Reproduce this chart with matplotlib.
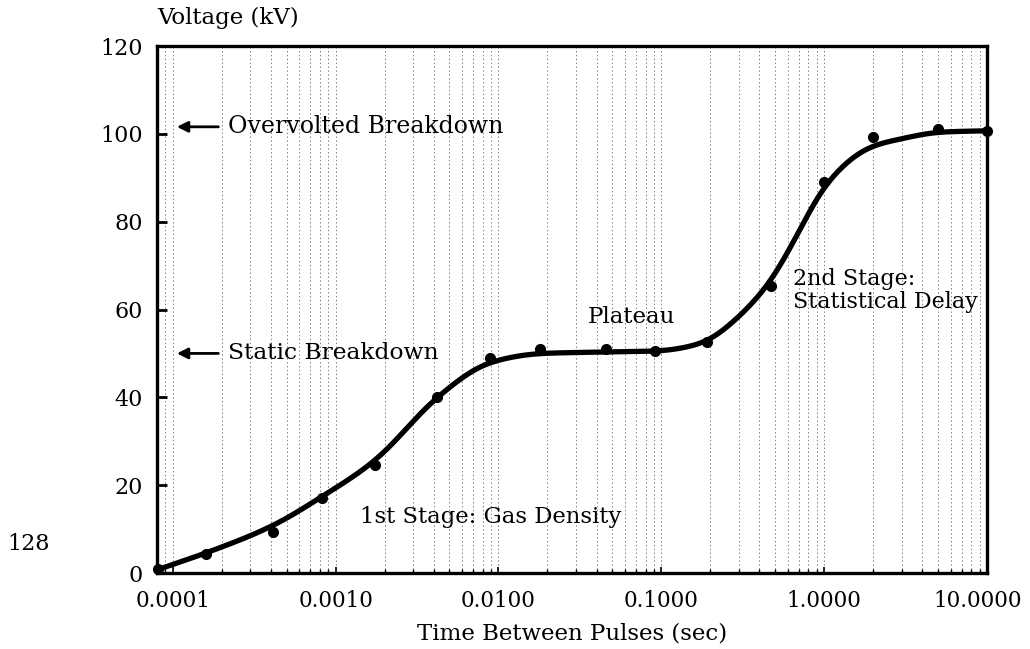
import numpy as np
import matplotlib
matplotlib.use("Agg")
import matplotlib.pyplot as plt
from matplotlib.ticker import FixedLocator, FuncFormatter, LogLocator
from matplotlib.transforms import ScaledTranslation

plt.rcParams['font.family'] = ['DejaVu Serif']

# Measured breakdown voltage vs. time between pulses
pulse_time = [8.1e-5, 1.6e-4, 4.1e-4, 8.3e-4, 1.75e-3, 4.2e-3, 8.9e-3, 0.018,
              0.046, 0.092, 0.19, 0.47, 1.0, 2.0, 5.0, 10.0]
voltage_kv = [1.0, 4.3, 9.4, 17.0, 24.7, 40.0, 49.0, 50.9,
              51.0, 50.5, 52.5, 65.3, 89.0, 99.3, 101.0, 100.6]

# Smooth trend line through the measurements
trend_time = [8.0e-5, 1.58e-4, 4.13e-4, 8.24e-4, 1.75e-3, 4.2e-3,
              8.87e-3, 0.018, 0.042, 0.092, 0.186, 0.265, 0.466, 0.713, 1.0,
              1.97, 2.93, 5.0, 10.0]
trend_kv = [0.7, 4.5, 10.8, 17.4, 25.6, 40.0,
            48.0, 50.0, 50.3, 50.5, 52.5, 56.6, 66.2, 78.3, 88.2,
            97.3, 98.8, 100.4, 100.7]

y_ticks = [0, 20, 40, 60, 80, 100, 120]
x_ticks = [1e-4, 1e-3, 1e-2, 1e-1, 1, 10]


def pchip(xk, yk, xq):
    xk = np.asarray(xk, float)
    yk = np.asarray(yk, float)
    h = np.diff(xk)
    d = np.diff(yk) / h
    m = np.zeros_like(yk)
    m[0], m[-1] = d[0], d[-1]
    for k in range(1, len(xk) - 1):
        if d[k - 1] * d[k] > 0:
            w1 = 2 * h[k] + h[k - 1]
            w2 = h[k] + 2 * h[k - 1]
            m[k] = (w1 + w2) / (w1 / d[k - 1] + w2 / d[k])
    idx = np.clip(np.searchsorted(xk, xq) - 1, 0, len(xk) - 2)
    t = (xq - xk[idx]) / h[idx]
    h00 = 2 * t**3 - 3 * t**2 + 1
    h10 = t**3 - 2 * t**2 + t
    h01 = -2 * t**3 + 3 * t**2
    h11 = t**3 - t**2
    return (h00 * yk[idx] + h10 * h[idx] * m[idx]
            + h01 * yk[idx + 1] + h11 * h[idx] * m[idx + 1])


def smooth_trend(u_k, y_k, n=600, sigma=0.07):
    """Monotone interpolation in log-time, then a light Gaussian smoothing."""
    u = np.linspace(u_k[0], u_k[-1], n)
    y = pchip(u_k, y_k, u)
    du = u[1] - u[0]
    r = int(4 * sigma / du)
    # linear extension at both ends so the smoothing keeps the end slopes
    sl0 = (y[1] - y[0]) / du
    sl1 = (y[-1] - y[-2]) / du
    left = y[0] - sl0 * du * np.arange(r, 0, -1)
    right = y[-1] + sl1 * du * np.arange(1, r + 1)
    ypad = np.concatenate([left, y, right])
    k = np.exp(-0.5 * (np.arange(-r, r + 1) * du / sigma) ** 2)
    k /= k.sum()
    return u, np.convolve(ypad, k, mode='valid')


fig = plt.figure(figsize=(10.30, 6.49), dpi=100)
ax = fig.add_axes([0.1524, 0.1171, 0.8059, 0.8120])

u_fit, y_fit = smooth_trend(np.log10(trend_time), trend_kv)
ax.plot(10**u_fit, y_fit, color='black', lw=3.8, solid_capstyle='round',
        zorder=3)
ax.plot(pulse_time, voltage_kv, 'o', color='black', ms=7, zorder=4,
        clip_on=False)

ax.set_xscale('log')
ax.set_xlim(8e-5, 10)
ax.set_ylim(0, 120)

ax.xaxis.set_major_locator(FixedLocator(x_ticks))
ax.xaxis.set_minor_locator(LogLocator(base=10, subs=np.arange(2, 10)))
ax.xaxis.set_major_formatter(FuncFormatter(lambda v, p: f"{v:.4f}"))
ax.xaxis.set_minor_formatter(FuncFormatter(lambda v, p: ""))
ax.set_yticks(y_ticks)

ax.grid(True, which='both', axis='x', color='0.5', lw=0.7,
        linestyle=(0, (1.5, 2.5)))
ax.set_axisbelow(True)

ax.tick_params(axis='y', which='major', direction='in', length=7, width=2,
               labelsize=16, pad=10)
ax.tick_params(axis='x', which='major', direction='in', length=4, width=1.2,
               labelsize=15.5, pad=12)
ax.tick_params(axis='x', which='minor', direction='in', length=3, width=1)
for s in ax.spines.values():
    s.set_linewidth(2.4)

# keep the last tick label inside the figure
fig.canvas.draw()
last = ax.get_xticklabels()[-1]
last.set_transform(last.get_transform()
                   + ScaledTranslation(-7 / 72, 0, fig.dpi_scale_trans))

ax.set_xlabel('Time Between Pulses (sec)', fontsize=16.5, labelpad=8)
fig.text(0.1524, 0.955, 'Voltage (kV)', fontsize=16.5, ha='left',
         va='bottom')

tf = ax.get_yaxis_transform()
for yv, label, fs in [(101.6, 'Overvolted Breakdown', 17),
                      (50.0, 'Static Breakdown', 16.8)]:
    ax.annotate('', xy=(0.024, yv), xytext=(0.074, yv), xycoords=tf,
                textcoords=tf,
                arrowprops=dict(arrowstyle='-|>', color='black', lw=2,
                                mutation_scale=16, shrinkA=0, shrinkB=0))
    ax.text(0.085, yv, label, transform=tf, fontsize=fs, ha='left',
            va='center')

ax.text(0.0355, 58.4, 'Plateau', fontsize=16.5, ha='left', va='center')
ax.text(0.645, 64.3, '2nd Stage:\nStatistical Delay', fontsize=16,
        ha='left', va='center', linespacing=1.1)
ax.text(0.00141, 12.8, '1st Stage: Gas Density', fontsize=16.4, ha='left',
        va='center')

fig.text(0.028, 0.162, '128', fontsize=16, ha='center', va='center')

fig.savefig('out.png', dpi=100)
